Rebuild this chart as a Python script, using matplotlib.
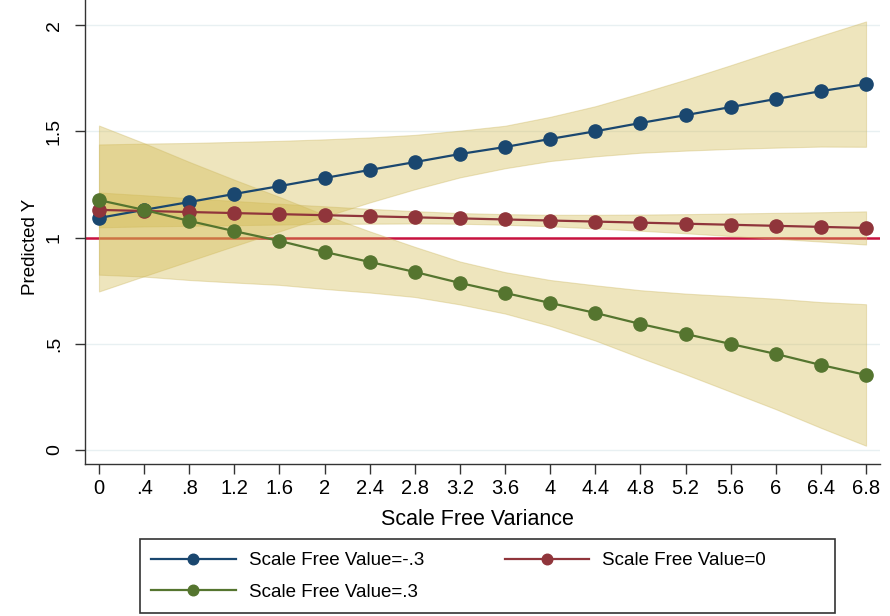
import numpy as np
import matplotlib.pyplot as plt
from matplotlib.patches import Rectangle

plt.rcParams['font.family'] = ['Liberation Sans', 'DejaVu Sans']

# scale free variance (x axis)
variance = [0, 0.4, 0.8, 1.2, 1.6, 2.0, 2.4, 2.8, 3.2, 3.6,
            4.0, 4.4, 4.8, 5.2, 5.6, 6.0, 6.4, 6.8]
x_ticklabels = ['0', '.4', '.8', '1.2', '1.6', '2', '2.4', '2.8', '3.2', '3.6',
                '4', '4.4', '4.8', '5.2', '5.6', '6', '6.4', '6.8']

# predicted Y, Scale Free Value = -.3
pred_neg = [1.092, 1.130, 1.167, 1.205, 1.242, 1.280, 1.318, 1.355, 1.393,
            1.426, 1.464, 1.500, 1.539, 1.576, 1.614, 1.652, 1.689, 1.722]
upper_neg = [1.438, 1.442, 1.445, 1.450, 1.455, 1.462, 1.471, 1.483, 1.503,
             1.526, 1.568, 1.618, 1.679, 1.743, 1.811, 1.881, 1.950, 2.017]
lower_neg = [0.746, 0.818, 0.889, 0.960, 1.029, 1.098, 1.165, 1.227, 1.283,
             1.326, 1.360, 1.382, 1.399, 1.409, 1.417, 1.423, 1.428, 1.427]

# Scale Free Value = 0
pred_zero = [1.130, 1.125, 1.120, 1.115, 1.110, 1.105, 1.100, 1.095, 1.090,
             1.085, 1.080, 1.075, 1.070, 1.065, 1.060, 1.055, 1.050, 1.045]
upper_zero = [1.212, 1.199, 1.185, 1.172, 1.159, 1.147, 1.135, 1.124, 1.115,
              1.110, 1.107, 1.107, 1.108, 1.110, 1.113, 1.116, 1.119, 1.123]
lower_zero = [1.048, 1.052, 1.055, 1.058, 1.061, 1.064, 1.065, 1.066, 1.065,
              1.060, 1.053, 1.043, 1.032, 1.020, 1.007, 0.994, 0.981, 0.967]

# Scale Free Value = .3
pred_pos = [1.176, 1.130, 1.078, 1.030, 0.984, 0.932, 0.885, 0.838, 0.786,
            0.739, 0.692, 0.645, 0.593, 0.546, 0.499, 0.452, 0.400, 0.353]
upper_pos = [1.527, 1.444, 1.356, 1.272, 1.191, 1.106, 1.029, 0.956, 0.887,
             0.837, 0.800, 0.775, 0.752, 0.736, 0.724, 0.712, 0.696, 0.686]
lower_pos = [0.825, 0.816, 0.800, 0.788, 0.777, 0.758, 0.741, 0.720, 0.685,
             0.642, 0.584, 0.515, 0.434, 0.356, 0.274, 0.192, 0.104, 0.020]

y_ticks = [0, 0.5, 1, 1.5, 2]
y_ticklabels = ['0', '.5', '1', '1.5', '2']

fig = plt.figure(figsize=(8.9, 6.16), dpi=100)
ax = fig.add_axes([0.0955, 0.2468, 0.8933, 0.7532])

for y in y_ticks:
    ax.axhline(y, color='#e8f0f2', lw=1.0, zorder=0)

ax.axhline(1, color='#c8123f', lw=1.8, zorder=1)

band_fill = '#d2b84a'
band_edge = '#cbb65e'
for lo, hi in [(lower_neg, upper_neg), (lower_zero, upper_zero), (lower_pos, upper_pos)]:
    ax.fill_between(variance, lo, hi, facecolor=band_fill, alpha=0.36,
                    edgecolor=band_edge, lw=0.8, zorder=2)

l_neg, = ax.plot(variance, pred_neg, '-o', color='#1a476f', lw=1.6, ms=9.5, zorder=3,
                 label='Scale Free Value=-.3')
l_zero, = ax.plot(variance, pred_zero, '-o', color='#90353b', lw=1.6, ms=9.5, zorder=4,
                  label='Scale Free Value=0')
l_pos, = ax.plot(variance, pred_pos, '-o', color='#55752f', lw=1.6, ms=9.5, zorder=5,
                 label='Scale Free Value=.3')

ax.set_xlim(-0.124, 6.924)
ax.set_ylim(-0.066, 2.118)
ax.set_xticks(variance)
ax.set_xticklabels(x_ticklabels, fontsize=14.5)
ax.set_yticks(y_ticks)
ax.set_yticklabels(y_ticklabels, fontsize=14, rotation=90, va='center')
ax.tick_params(axis='both', direction='out', length=7, width=1, color='#333333')
ax.tick_params(axis='x', pad=4)
ax.tick_params(axis='y', pad=9)

for s in ['top', 'right']:
    ax.spines[s].set_visible(False)
for s in ['left', 'bottom']:
    ax.spines[s].set_color('#333333')
    ax.spines[s].set_linewidth(1.0)

ax.set_xlabel('Scale Free Variance', fontsize=15.5)
ax.xaxis.set_label_coords(0.494, -0.098)
ax.set_ylabel('Predicted Y', fontsize=13.5)
ax.yaxis.set_label_coords(-0.058, 0.468)

# legend entries without frame, box drawn separately (Stata-style wide box)
leg = fig.legend(handles=[l_neg, l_pos, l_zero], loc='center left',
                 bbox_to_anchor=(140 / 890, 39.5 / 616),
                 ncol=2, fontsize=13.5, frameon=False, handlelength=4.5,
                 markerscale=0.8, handletextpad=0.7, borderpad=0.6, columnspacing=4.3,
                 labelspacing=0.75, borderaxespad=0)
fig.add_artist(Rectangle((140 / 890, 3 / 616), 695 / 890, 74 / 616,
                         transform=fig.transFigure, fill=False,
                         edgecolor='#333333', lw=1.2))

fig.savefig('out.png', dpi=100)
